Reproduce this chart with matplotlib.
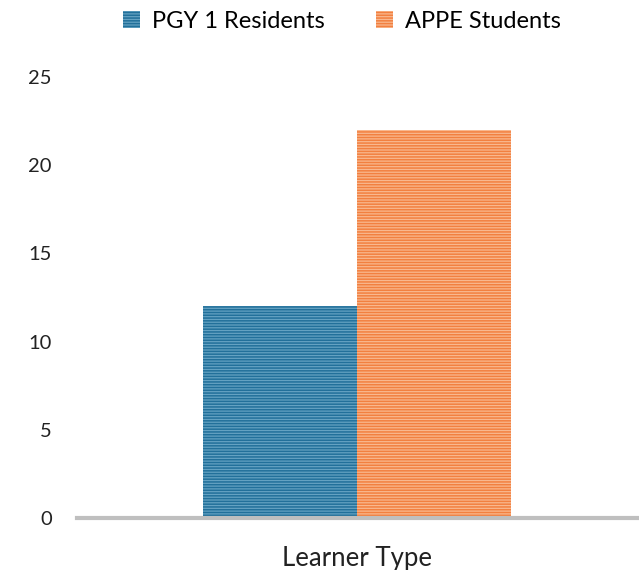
import matplotlib.pyplot as plt
import numpy as np

plt.rcParams['font.family'] = ['Lato', 'DejaVu Sans']
plt.rcParams['hatch.linewidth'] = 1.1

categories = ["Learner Type"]
series_names = ["PGY 1 Residents", "APPE Students"]
pgy = [12]
appe = [22]

fig = plt.figure(figsize=(6.39, 5.70), dpi=100)
ax = fig.add_axes([0.1205, 0.0912, 0.8765, 0.7738])

x = np.arange(len(categories))
w = 0.275
b1 = ax.bar(x - w/2, pgy, w, color='#64a2c2', edgecolor='#22709a', hatch='------', linewidth=0, label=series_names[0])
b2 = ax.bar(x + w/2, appe, w, color='#f9b88f', edgecolor='#f28040', hatch='------', linewidth=0, label=series_names[1])

ax.set_xlim(-0.5, 0.5)
ax.set_ylim(0, 25)
ax.set_yticks([0, 5, 10, 15, 20, 25])
ax.set_xticks([])
ax.tick_params(axis='y', length=0, pad=18, labelsize=14.5, labelcolor='#222222')
for s in ['top', 'right', 'left']:
    ax.spines[s].set_visible(False)
ax.spines['bottom'].set_color('#bfbfbf')
ax.spines['bottom'].set_linewidth(3)
ax.set_xlabel("Learner Type", fontsize=18.5, labelpad=20, color='#222222')

fig.legend(handles=[b1, b2], loc='upper center', bbox_to_anchor=(0.535, 1.018), ncol=2,
           frameon=False, fontsize=17, handlelength=0.7, handleheight=0.7, columnspacing=2.2,
           handletextpad=0.5)

fig.savefig('out.png', dpi=100)
